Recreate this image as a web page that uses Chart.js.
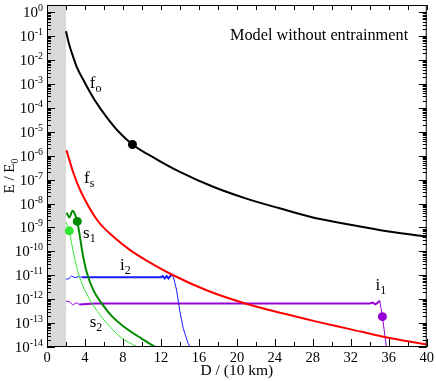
<!DOCTYPE html>
<html>
<head>
<meta charset="utf-8">
<script src="https://cdn.jsdelivr.net/npm/chart.js@4"></script>
<style>
  html, body { margin: 0; padding: 0; background: #fff; }
</style>
</head>
<body>
<canvas id="chart" width="436" height="381"></canvas>
<script>
// values (x in units of 10 km, y = E/E0)
const foX = [2.0, 2.3, 2.63, 3.13, 4.0, 5.0, 6.3, 7.5, 9.0, 11.6, 14.0, 17.5, 21.0, 24.5, 28.0, 31.5, 35.0, 40.0];
const foY = [1.6e-1, 5.0e-2, 1.9e-2, 5.2e-3, 1.1e-3, 2.2e-4, 4.0e-5, 1.05e-5, 2.95e-6, 6.9e-7, 2.1e-7, 5.0e-8, 1.6e-8, 6.3e-9, 2.6e-9, 1.4e-9, 7.8e-10, 4.1e-10];

const fsX = [2.05, 2.8, 3.5, 5.3, 7.0, 8.8, 10.5, 13.3, 17.0, 20.8, 24.9, 28.4, 31.9, 35.4, 40.0];
const fsY = [1.7e-6, 1.8e-7, 3.6e-8, 2.0e-9, 4.1e-10, 1.1e-10, 4.1e-11, 1.0e-11, 2.2e-12, 6.8e-13, 2.5e-13, 1.15e-13, 5.6e-14, 2.7e-14, 1.26e-14];

const s1X = [2.07, 2.35, 2.7, 2.95, 3.19, 3.47, 3.75, 4.17, 4.88, 5.75, 6.8, 8.0, 10.0, 11.4];
const s1Y = [4.1e-9, 2.6e-9, 5.0e-9, 3.5e-9, 1.78e-9, 4.1e-10, 8.1e-11, 1.4e-11, 2.4e-12, 6.8e-13, 2.0e-13, 7.6e-14, 2.2e-14, 1.0e-14];

const s2X = [2.0, 2.35, 2.6, 2.95, 3.3, 3.82, 4.53, 5.58, 6.63, 7.68, 9.5];
const s2Y = [1.7e-9, 7.2e-10, 2.1e-10, 4.4e-11, 1.2e-11, 3.3e-12, 9.3e-13, 2.2e-13, 7.1e-14, 2.7e-14, 1.0e-14];

const i2X = [2.0, 2.3, 2.6, 2.95, 3.3, 3.7, 5.0, 7.0, 9.0, 11.0, 12.0, 12.2, 12.4, 12.6, 12.8, 13.0, 13.2, 13.4, 13.65, 14.0, 14.35, 14.87, 15.1];
const i2Y = [6.8e-12, 7.2e-12, 9.3e-12, 7.9e-12, 8.7e-12, 8.3e-12, 8.3e-12, 8.3e-12, 8.3e-12, 8.3e-12, 8.3e-12, 9.3e-12, 7.4e-12, 9.3e-12, 7.4e-12, 9.3e-12, 1.07e-11, 6.3e-12, 2.4e-12, 3.0e-13, 6.0e-14, 1.4e-14, 1.0e-14];

const i1X = [2.0, 2.4, 2.7, 3.1, 3.4, 5.0, 10.0, 20.0, 30.0, 34.0, 34.3, 34.6, 34.85, 35.05, 35.33, 35.75];
const i1Y = [8.3e-13, 7.6e-13, 5.8e-13, 7.1e-13, 6.0e-13, 6.6e-13, 6.6e-13, 6.6e-13, 6.6e-13, 6.6e-13, 7.2e-13, 6.1e-13, 7.2e-13, 8.7e-13, 1.86e-13, 1.0e-14];

// filled dots: f_o, s_1, s_2, i_1
const dotX = [9.0, 3.19, 2.35, 35.33];
const dotY = [2.95e-6, 1.78e-9, 7.2e-10, 1.86e-13];
const dotColors = ['#000000', '#008a00', '#33e633', '#9400d3'];

const bandRange = [0, 2];
const xTicks = [0, 4, 8, 12, 16, 20, 24, 28, 32, 36, 40];
const yPowers = [0, -1, -2, -3, -4, -5, -6, -7, -8, -9, -10, -11, -12, -13, -14];

// curve labels: main letter, subscript, anchor (data coords)
const curveLabels = [
  { main: 'f', sub: 'o', x: 4.5, y: 6.6e-4 },
  { main: 'f', sub: 's', x: 3.9, y: 7.1e-8 },
  { main: 's', sub: '1', x: 3.8, y: 3.6e-10 },
  { main: 'i', sub: '2', x: 7.7, y: 1.66e-11 },
  { main: 's', sub: '2', x: 4.5, y: 6.9e-14 },
  { main: 'i', sub: '1', x: 34.6, y: 2.4e-12 }
];

const SERIF = '"Liberation Serif", "Times New Roman", serif';

function pts(xs, ys) {
  return xs.map((x, i) => ({ x: x, y: ys[i] }));
}

function line(data, color, width, extra) {
  return Object.assign({
    data: data,
    borderColor: color,
    borderWidth: width,
    pointRadius: 0,
    fill: false,
    cubicInterpolationMode: 'monotone'
  }, extra || {});
}

function drawSub(ctx, x, y, main, sub, size, subSize, drop) {
  ctx.font = size + 'px ' + SERIF;
  ctx.fillText(main, x, y);
  const w = ctx.measureText(main).width;
  ctx.font = subSize + 'px ' + SERIF;
  ctx.fillText(sub, x + w, y + drop);
}

const decorations = {
  id: 'decorations',
  beforeDatasetsDraw(chart) {
    const { ctx, chartArea: a, scales: { x } } = chart;
    const x0 = x.getPixelForValue(bandRange[0]);
    const x1 = x.getPixelForValue(bandRange[1]);
    ctx.save();
    ctx.fillStyle = '#d9d9d9';
    ctx.fillRect(x0, a.top, x1 - x0, a.bottom - a.top);
    ctx.restore();
  },
  afterDraw(chart) {
    const { ctx, chartArea: a, scales: { x, y } } = chart;
    ctx.save();
    ctx.strokeStyle = '#000';
    ctx.lineWidth = 1;

    // frame
    ctx.strokeRect(a.left + 0.5, a.top + 0.5, a.right - a.left - 1, a.bottom - a.top - 1);

    // x ticks, bottom and top, pointing inward
    ctx.beginPath();
    for (let v = 0; v <= 40; v += 2) {
      const px = Math.round(x.getPixelForValue(v)) + 0.5;
      const len = v % 4 === 0 ? 8 : 5;
      ctx.moveTo(px, a.bottom);
      ctx.lineTo(px, a.bottom - len);
      ctx.moveTo(px, a.top);
      ctx.lineTo(px, a.top + 5);
    }
    // y ticks, left and right, pointing inward
    yPowers.forEach(p => {
      const py = Math.round(y.getPixelForValue(Math.pow(10, p))) + 0.5;
      ctx.moveTo(a.left, py);
      ctx.lineTo(a.left + 8, py);
      ctx.moveTo(a.right, py);
      ctx.lineTo(a.right - 8, py);
      if (p < 0) {
        for (let k = 2; k <= 9; k++) {
          const pm = Math.round(y.getPixelForValue(k * Math.pow(10, p))) + 0.5;
          ctx.moveTo(a.left, pm);
          ctx.lineTo(a.left + 4, pm);
          ctx.moveTo(a.right, pm);
          ctx.lineTo(a.right - 4, pm);
        }
      }
    });
    ctx.stroke();

    ctx.fillStyle = '#000';
    ctx.textBaseline = 'alphabetic';

    // y tick labels 10^n
    yPowers.forEach(p => {
      const py = y.getPixelForValue(Math.pow(10, p));
      const exp = p === 0 ? '0' : '-' + Math.abs(p);
      ctx.textAlign = 'right';
      ctx.font = '10px ' + SERIF;
      const ew = ctx.measureText(exp).width;
      ctx.fillText(exp, 43, py - 1);
      ctx.font = '15px ' + SERIF;
      ctx.fillText('10', 43 - ew, py + 5);
    });

    // y axis title, rotated
    ctx.save();
    ctx.translate(14, (a.top + a.bottom) / 2);
    ctx.rotate(-Math.PI / 2);
    ctx.textAlign = 'left';
    ctx.font = '15px ' + SERIF;
    const tw = ctx.measureText('E / E').width;
    ctx.font = '10px ' + SERIF;
    const sw = ctx.measureText('0').width;
    drawSub(ctx, -(tw + sw) / 2, 0, 'E / E', '0', 15, 10, 4);
    ctx.restore();

    // panel title
    ctx.textAlign = 'left';
    ctx.font = '16.3px ' + SERIF;
    ctx.fillText('Model without entrainment', 230, 40);

    // curve labels
    curveLabels.forEach(l => {
      drawSub(ctx, x.getPixelForValue(l.x), y.getPixelForValue(l.y), l.main, l.sub, 17, 12, 4);
    });
    ctx.restore();
  }
};

new Chart(document.getElementById('chart'), {
  type: 'line',
  data: {
    datasets: [
      line(pts(foX, foY), '#000000', 2),
      line(pts(fsX, fsY), '#ff0000', 2),
      line(pts(s1X, s1Y), '#008a00', 2),
      line(pts(s2X, s2Y), '#33e633', 1),
      line(pts(i2X, i2Y), '#1a1aff', 1, {
        cubicInterpolationMode: 'default',
        tension: 0,
        segment: { borderWidth: c => (c.p0.parsed.x < 3.5 || c.p0.parsed.x >= 13.2 ? 1 : 2) }
      }),
      line(pts(i1X, i1Y), '#9400d3', 1, {
        cubicInterpolationMode: 'default',
        tension: 0,
        segment: { borderWidth: c => (c.p0.parsed.x < 3.4 || c.p0.parsed.x >= 35.05 ? 1 : 2) }
      }),
      {
        type: 'scatter',
        data: pts(dotX, dotY),
        pointRadius: 4.5,
        pointBackgroundColor: dotColors,
        pointBorderColor: dotColors,
        pointBorderWidth: 0,
        showLine: false
      }
    ]
  },
  options: {
    responsive: false,
    animation: false,
    layout: { padding: { left: 0, right: 9, top: 5, bottom: 0 } },
    plugins: {
      legend: { display: false },
      tooltip: { enabled: false }
    },
    scales: {
      x: {
        type: 'linear',
        min: 0,
        max: 40,
        afterBuildTicks: s => { s.ticks = xTicks.map(v => ({ value: v })); },
        afterFit: s => { s.height = 34; },
        ticks: {
          autoSkip: false,
          maxRotation: 0,
          padding: 2,
          color: '#000',
          font: { family: SERIF, size: 14.5 }
        },
        grid: { display: false, drawTicks: false },
        border: { display: false },
        title: {
          display: true,
          text: 'D / (10 km)',
          color: '#000',
          font: { family: SERIF, size: 15.5 },
          padding: { top: 0, bottom: 1 }
        }
      },
      y: {
        type: 'logarithmic',
        min: 1e-14,
        max: 2,
        afterFit: s => { s.width = 47; },
        ticks: { display: false },
        grid: { display: false, drawTicks: false },
        border: { display: false }
      }
    }
  },
  plugins: [decorations]
});
</script>
</body>
</html>
